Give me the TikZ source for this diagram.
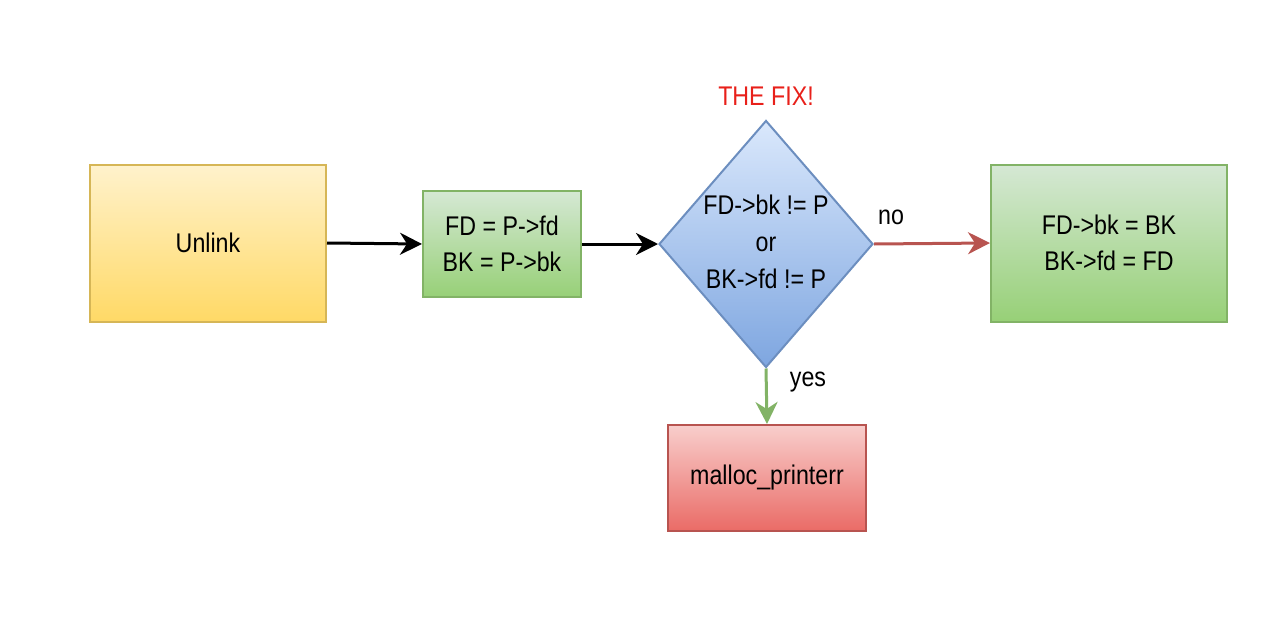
\documentclass[tikz,border=0pt]{standalone}
\usepackage{fontspec}
\setmainfont{Liberation Sans}[FakeStretch=0.86]
\usetikzlibrary{shapes.geometric,arrows.meta}
\definecolor{ybord}{HTML}{D6B656}
\definecolor{ytop}{HTML}{FFF2CC}
\definecolor{ybot}{HTML}{FFD966}
\definecolor{gbord}{HTML}{82B366}
\definecolor{gtop}{HTML}{D5E8D4}
\definecolor{gbot}{HTML}{97D077}
\definecolor{bbord}{HTML}{6C8EBF}
\definecolor{btop}{HTML}{DAE8FC}
\definecolor{bbot}{HTML}{7EA6E0}
\definecolor{rbord}{HTML}{B85450}
\definecolor{rtop}{HTML}{F8CECC}
\definecolor{rbot}{HTML}{EA6B66}
\definecolor{fixred}{HTML}{E8201A}
\definecolor{noarrow}{HTML}{B85450}
\definecolor{yesarrow}{HTML}{82B366}
\tikzset{
  box/.style={draw, line width=2pt, inner sep=0pt, align=center, font=\fontsize{27}{36}\selectfont},
  yellowbox/.style={box, draw=ybord, top color=ytop, bottom color=ybot},
  greenbox/.style={box, draw=gbord, top color=gtop, bottom color=gbot},
  redbox/.style={box, draw=rbord, top color=rtop, bottom color=rbot},
  decision/.style={draw=bbord, line width=2pt, diamond, top color=btop, bottom color=bbot, inner sep=0pt},
  conn/.style={line width=3pt, -{Stealth[length=22pt,width=22pt,inset=7pt]}},
  lbl/.style={font=\fontsize{27}{37}\selectfont, inner sep=0pt}
}
\begin{document}
\begin{tikzpicture}[x=1pt,y=-1pt]
\useasboundingbox (0,0) rectangle (1268,642);
\node[yellowbox, minimum width=236pt, minimum height=157pt] (unlink) at (208,243) {Unlink};
\node[greenbox, minimum width=158pt, minimum height=106pt] (assign) at (502,244) {FD = P->fd\\BK = P->bk};
\node[decision, minimum width=214pt, minimum height=247pt] (check) at (766,244) {};
\node[lbl, align=center] (checktxt) at (766,242) {FD->bk != P\\or\\BK->fd != P};
\node[greenbox, minimum width=236pt, minimum height=157pt] (relink) at (1109,243) {FD->bk = BK\\BK->fd = FD};
\node[redbox, minimum width=198pt, minimum height=106pt] (err) at (767,478) {malloc\_printerr};
\node[lbl, text=fixred] (fix) at (766,96) {THE FIX!};
\draw[conn, black] (unlink.east) -- (assign.west);
\draw[conn, black] (assign.east) -- (check.west);
\draw[conn, noarrow] (check.east) -- (relink.west);
\draw[conn, yesarrow] (check.south) -- (err.north);
\node[lbl] (nolbl) at (891,217) {no};
\node[lbl] (yeslbl) at (808,382) {yes};
\end{tikzpicture}
\end{document}
